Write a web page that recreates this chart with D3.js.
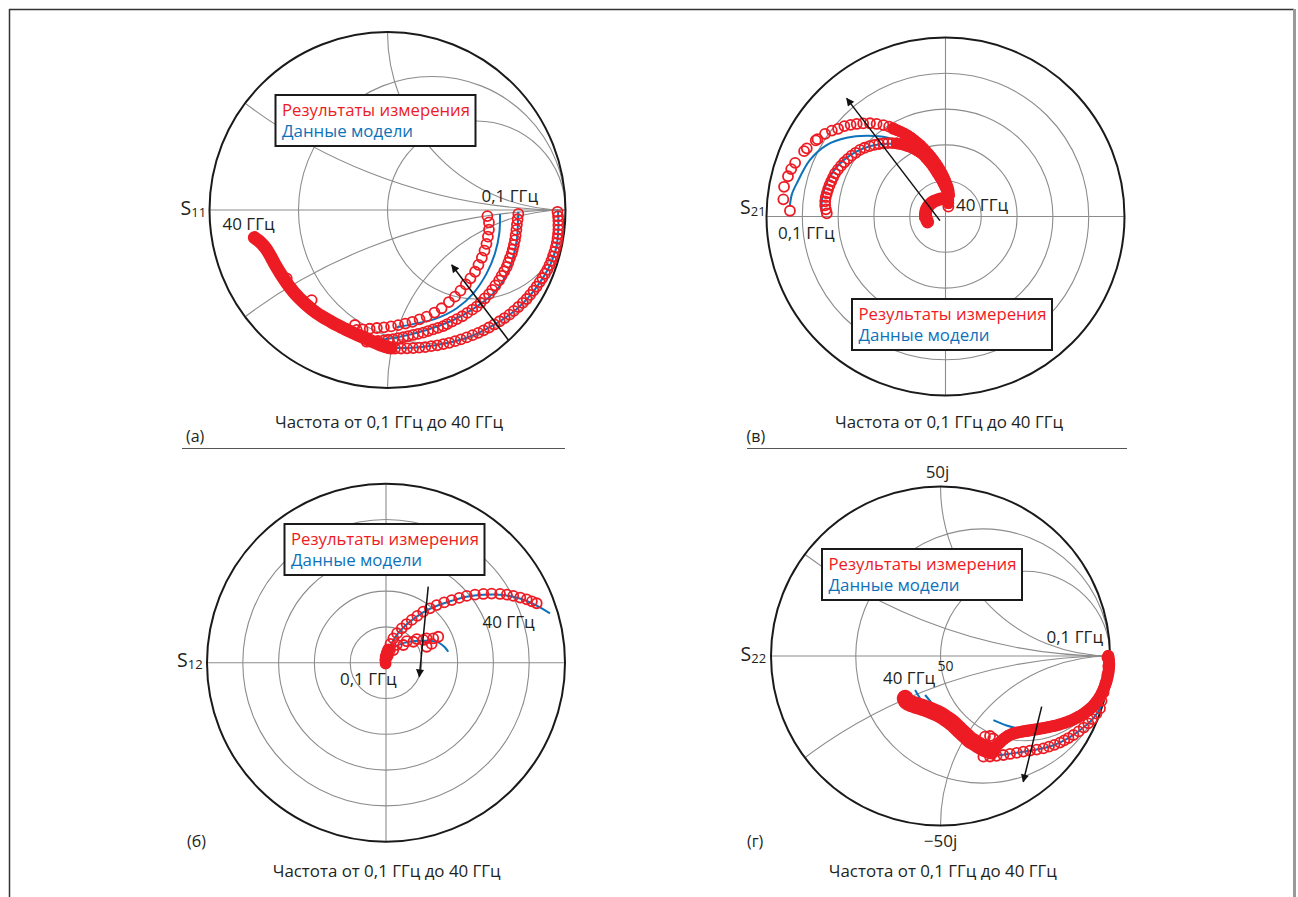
<!DOCTYPE html>
<html>
<head>
<meta charset="utf-8">
<script src="https://cdn.jsdelivr.net/npm/d3@7"></script>
<style>
  body { margin: 0; background: #fff; }
  text { font-family: "Open Sans", sans-serif; fill: #231f20; }
</style>
</head>
<body>
<svg id="chart" width="1298" height="897"></svg>
<script>
// ---- data (normalized chart coordinates, outer circle = 1) ----

// S11: three measured traces (sparse part), shared dense tail, model lines
const s11Meas1 = [[0.955,-0.010],[0.958,-0.035],[0.960,-0.060],[0.960,-0.085],[0.960,-0.110],[0.958,-0.135],[0.955,-0.160],[0.951,-0.185],[0.945,-0.210],[0.938,-0.235],[0.930,-0.260],[0.921,-0.285],[0.910,-0.310],[0.898,-0.335],[0.885,-0.358],[0.870,-0.382],[0.855,-0.405],[0.838,-0.430],[0.820,-0.453],[0.801,-0.477],[0.782,-0.500],[0.760,-0.522],[0.735,-0.545],[0.710,-0.567],[0.685,-0.588],[0.658,-0.607],[0.630,-0.625],[0.600,-0.643],[0.570,-0.660],[0.540,-0.676],[0.510,-0.690],[0.478,-0.703],[0.445,-0.716],[0.412,-0.727],[0.380,-0.737],[0.347,-0.746],[0.314,-0.753],[0.280,-0.760],[0.246,-0.765],[0.212,-0.770],[0.178,-0.773],[0.144,-0.776],[0.110,-0.777],[0.076,-0.778],[0.042,-0.778],[0.008,-0.777]];
const s11Meas2 = [[0.735,-0.022],[0.731,-0.052],[0.727,-0.082],[0.724,-0.112],[0.720,-0.142],[0.716,-0.169],[0.710,-0.196],[0.704,-0.221],[0.698,-0.244],[0.688,-0.270],[0.679,-0.295],[0.670,-0.319],[0.656,-0.344],[0.641,-0.370],[0.627,-0.395],[0.606,-0.424],[0.588,-0.449],[0.570,-0.473],[0.546,-0.497],[0.523,-0.520],[0.501,-0.543],[0.476,-0.560],[0.448,-0.578],[0.420,-0.597],[0.390,-0.613],[0.362,-0.627],[0.335,-0.641],[0.313,-0.652],[0.284,-0.662],[0.256,-0.671],[0.228,-0.680],[0.201,-0.689],[0.172,-0.696],[0.144,-0.702],[0.116,-0.709],[0.089,-0.715],[0.060,-0.720],[0.032,-0.725],[0.004,-0.729],[-0.024,-0.734],[-0.054,-0.736],[-0.085,-0.738],[-0.117,-0.740]];
const s11Meas3 = [[0.561,-0.034],[0.570,-0.070],[0.570,-0.110],[0.564,-0.150],[0.556,-0.190],[0.545,-0.228],[0.530,-0.268],[0.511,-0.308],[0.492,-0.347],[0.466,-0.384],[0.440,-0.418],[0.410,-0.453],[0.379,-0.487],[0.345,-0.517],[0.304,-0.552],[0.264,-0.576],[0.220,-0.599],[0.180,-0.614],[0.140,-0.628],[0.100,-0.638],[0.060,-0.647],[0.020,-0.654],[-0.020,-0.659],[-0.060,-0.663],[-0.100,-0.667],[-0.140,-0.671],[-0.173,-0.674],[-0.183,-0.646],[-0.426,-0.506],[-0.566,-0.384]];
const s11Tail = [[0.020,-0.775],[-0.010,-0.768],[-0.040,-0.758],[-0.070,-0.745],[-0.100,-0.732],[-0.130,-0.718],[-0.160,-0.705],[-0.190,-0.692],[-0.220,-0.678],[-0.250,-0.663],[-0.280,-0.648],[-0.310,-0.632],[-0.340,-0.615],[-0.370,-0.597],[-0.400,-0.577],[-0.428,-0.556],[-0.455,-0.533],[-0.480,-0.510],[-0.503,-0.487],[-0.525,-0.463],[-0.546,-0.437],[-0.566,-0.410],[-0.585,-0.382],[-0.603,-0.354],[-0.620,-0.326],[-0.636,-0.298],[-0.651,-0.270],[-0.666,-0.243],[-0.682,-0.218],[-0.700,-0.196],[-0.718,-0.178],[-0.735,-0.165],[-0.748,-0.155]];
const s11Model1 = [[0.958,-0.005],[0.960,-0.100],[0.950,-0.200],[0.922,-0.290],[0.880,-0.370],[0.825,-0.450],[0.760,-0.525],[0.680,-0.593],[0.590,-0.650],[0.490,-0.700],[0.380,-0.737],[0.270,-0.760],[0.160,-0.772],[0.042,-0.772],[-0.100,-0.725],[-0.250,-0.655],[-0.400,-0.560],[-0.510,-0.460],[-0.590,-0.350],[-0.640,-0.260],[-0.680,-0.190],[-0.710,-0.150]];
const s11Model2 = [[0.735,-0.010],[0.733,-0.060],[0.726,-0.169],[0.688,-0.319],[0.613,-0.449],[0.501,-0.543],[0.370,-0.618],[0.220,-0.674],[0.070,-0.712],[-0.042,-0.730]];
const s11Model3 = [[0.632,-0.022],[0.628,-0.131],[0.604,-0.243],[0.557,-0.356],[0.482,-0.468],[0.389,-0.552],[0.276,-0.609],[0.164,-0.637],[0.052,-0.659]];
const s11Arrow = [[0.679,-0.730],[0.361,-0.309]];

// S21: outer and inner traces, dense tails, small trace near the centre
const s21Meas1 = [[-0.869,0.032],[-0.906,0.096],[-0.902,0.166],[-0.880,0.225],[-0.862,0.265],[-0.840,0.300],[-0.790,0.365],[-0.775,0.381],[-0.725,0.425],[-0.715,0.432],[-0.673,0.462],[-0.635,0.480],[-0.600,0.490],[-0.565,0.505],[-0.530,0.512],[-0.496,0.517],[-0.460,0.520],[-0.422,0.521],[-0.385,0.517],[-0.347,0.511],[-0.315,0.502],[-0.292,0.493]];
const s21Tail1 = [[-0.292,0.490],[-0.272,0.483],[-0.252,0.474],[-0.232,0.464],[-0.212,0.453],[-0.193,0.440],[-0.175,0.427],[-0.158,0.413],[-0.141,0.398],[-0.125,0.382],[-0.110,0.366],[-0.095,0.350],[-0.081,0.333],[-0.068,0.316],[-0.055,0.298],[-0.043,0.280],[-0.032,0.261],[-0.021,0.242],[-0.011,0.222],[-0.002,0.202],[0.006,0.182],[0.013,0.162],[0.018,0.142],[0.021,0.120]];
const s21Meas2 = [[-0.663,0.018],[-0.668,0.040],[-0.672,0.062],[-0.672,0.085],[-0.669,0.108],[-0.663,0.130],[-0.656,0.152],[-0.648,0.175],[-0.638,0.197],[-0.628,0.219],[-0.617,0.241],[-0.601,0.262],[-0.584,0.283],[-0.566,0.303],[-0.546,0.322],[-0.525,0.340],[-0.502,0.356],[-0.478,0.372],[-0.452,0.384],[-0.425,0.393],[-0.398,0.400],[-0.372,0.405],[-0.347,0.409],[-0.322,0.410],[-0.297,0.410],[-0.273,0.409]];
const s21Tail2 = [[-0.273,0.409],[-0.253,0.405],[-0.233,0.400],[-0.214,0.394],[-0.196,0.388],[-0.178,0.380],[-0.160,0.370],[-0.142,0.358],[-0.124,0.344],[-0.109,0.328],[-0.095,0.312],[-0.081,0.295],[-0.068,0.278],[-0.056,0.260],[-0.044,0.241],[-0.032,0.222],[-0.021,0.204],[-0.011,0.185],[-0.002,0.166],[0.007,0.148],[0.012,0.128],[0.015,0.108],[0.016,0.092],[0.016,0.074],[0.016,0.055]];
const s21Tail3 = [[-0.100,-0.030],[-0.108,-0.010],[-0.112,0.012],[-0.108,0.035],[-0.098,0.055],[-0.083,0.072],[-0.064,0.085],[-0.044,0.093],[-0.024,0.098],[-0.004,0.100]];
const s21Model1 = [[-0.869,0.064],[-0.858,0.125],[-0.831,0.185],[-0.757,0.316],[-0.664,0.399],[-0.552,0.440],[-0.440,0.451],[-0.328,0.442],[-0.217,0.399],[-0.130,0.340],[-0.060,0.260],[-0.015,0.180],[0.005,0.120]];
const s21Model2 = [[-0.690,0.020],[-0.692,0.070],[-0.680,0.140],[-0.650,0.215],[-0.600,0.285],[-0.535,0.340],[-0.460,0.380],[-0.375,0.402],[-0.290,0.405],[-0.205,0.385],[-0.125,0.335],[-0.065,0.265],[-0.025,0.185],[-0.005,0.110],[0.005,0.060]];
const s21Model3 = [[-0.140,-0.020],[-0.142,0.000],[-0.136,0.025],[-0.120,0.045],[-0.100,0.062]];
const s21Arrow = [[-0.031,-0.023],[-0.552,0.660]];

// S12: outer and inner traces, dense start at the centre
const s12Meas1 = [[0.000,0.020],[0.005,0.045],[0.013,0.075],[0.025,0.105],[0.041,0.136],[0.062,0.165],[0.088,0.192],[0.115,0.216],[0.144,0.239],[0.175,0.262],[0.208,0.285],[0.245,0.304],[0.283,0.322],[0.325,0.337],[0.367,0.350],[0.409,0.362],[0.451,0.373],[0.497,0.380],[0.544,0.384],[0.590,0.386],[0.637,0.384],[0.675,0.380],[0.711,0.373],[0.750,0.364],[0.786,0.354],[0.815,0.343],[0.842,0.332]];
const s12Meas2 = [[0.010,0.040],[0.022,0.071],[0.041,0.071],[0.060,0.100],[0.097,0.099],[0.116,0.120],[0.153,0.117],[0.172,0.132],[0.208,0.127],[0.227,0.136],[0.227,0.089],[0.264,0.136],[0.292,0.145],[0.255,0.105]];
const s12Head = [[-0.002,-0.005],[-0.004,0.015],[-0.002,0.035],[0.004,0.055],[0.012,0.072]];
const s12Model1 = [[0.000,0.010],[0.020,0.085],[0.050,0.140],[0.090,0.190],[0.145,0.238],[0.210,0.283],[0.285,0.318],[0.367,0.346],[0.450,0.368],[0.544,0.379],[0.637,0.379],[0.711,0.368],[0.786,0.345],[0.850,0.315],[0.916,0.276]];
const s12Model2 = [[0.020,0.060],[0.060,0.095],[0.120,0.115],[0.180,0.122],[0.240,0.122],[0.283,0.118],[0.310,0.102],[0.330,0.085],[0.348,0.061]];
const s12Arrow = [[0.236,0.425],[0.186,-0.078]];

// S22: dense trace A, sparse trace B, shared dense tail
const s22MeasA = [[0.990,0.000],[0.993,-0.020],[0.995,-0.045],[0.994,-0.070],[0.991,-0.095],[0.986,-0.120],[0.980,-0.145],[0.972,-0.170],[0.963,-0.195],[0.952,-0.220],[0.938,-0.245],[0.922,-0.268],[0.904,-0.290],[0.884,-0.310],[0.862,-0.328],[0.838,-0.345],[0.812,-0.360],[0.785,-0.374],[0.757,-0.386],[0.728,-0.396],[0.698,-0.405],[0.668,-0.413],[0.637,-0.420],[0.606,-0.426],[0.575,-0.431],[0.544,-0.436],[0.513,-0.441],[0.482,-0.446],[0.452,-0.452],[0.424,-0.460],[0.398,-0.472],[0.375,-0.488],[0.355,-0.506],[0.335,-0.525],[0.315,-0.545]];
const s22MeasB = [[0.985,-0.010],[0.990,-0.060],[0.985,-0.110],[0.975,-0.160],[0.962,-0.215],[0.950,-0.265],[0.941,-0.309],[0.920,-0.340],[0.895,-0.372],[0.872,-0.397],[0.845,-0.422],[0.815,-0.445],[0.784,-0.466],[0.755,-0.484],[0.730,-0.498],[0.705,-0.511],[0.672,-0.524],[0.640,-0.535],[0.607,-0.545],[0.568,-0.552],[0.528,-0.558],[0.489,-0.564],[0.450,-0.571],[0.410,-0.578],[0.371,-0.584],[0.331,-0.589],[0.292,-0.593],[0.253,-0.594],[0.262,-0.476],[0.292,-0.472],[0.311,-0.486]];
const s22Tail = [[0.300,-0.560],[0.275,-0.552],[0.253,-0.543],[0.232,-0.530],[0.212,-0.518],[0.193,-0.506],[0.174,-0.494],[0.155,-0.476],[0.136,-0.458],[0.116,-0.440],[0.096,-0.420],[0.076,-0.400],[0.056,-0.385],[0.034,-0.370],[0.012,-0.355],[-0.010,-0.342],[-0.032,-0.332],[-0.055,-0.322],[-0.078,-0.313],[-0.100,-0.305],[-0.122,-0.298],[-0.144,-0.291],[-0.165,-0.284],[-0.185,-0.276],[-0.200,-0.266],[-0.208,-0.250]];
const s22ModelA = [[0.995,0.000],[0.990,-0.100],[0.960,-0.220],[0.910,-0.300],[0.840,-0.360],[0.750,-0.400],[0.650,-0.425],[0.567,-0.441],[0.470,-0.430],[0.390,-0.410],[0.312,-0.378]];
const s22ModelB = [[0.990,-0.050],[0.975,-0.180],[0.955,-0.270],[0.930,-0.330],[0.890,-0.380],[0.840,-0.425],[0.780,-0.468],[0.710,-0.508],[0.640,-0.535],[0.560,-0.553],[0.480,-0.566],[0.400,-0.578],[0.320,-0.585],[0.250,-0.580],[0.180,-0.545],[0.100,-0.470],[0.020,-0.380],[-0.060,-0.320],[-0.101,-0.279],[-0.150,-0.201]];
const s22ModelC = [[-0.030,-0.320],[-0.052,-0.279],[-0.091,-0.230]];
const s22Arrow = [[0.597,-0.299],[0.488,-0.742]];

// grids and texts
const smithR = [1 / 3, 1];
const smithX = [1 / 3, 1, -1 / 3, -1];
const polarRings = [0.2, 0.4, 0.6, 0.8];
const smithTicks = ["50j", "\u221250j", "50"];
const legendTexts = ["Результаты измерения", "Данные модели"];
const caption = "Частота от 0,1 ГГц до 40 ГГц";

const RED = "#ed1c24", BLUE = "#0d72ba", GRID = "#8c8c8c";

const svg = d3.select("#chart");

svg.append("defs").append("marker")
  .attr("id", "arrowhead")
  .attr("viewBox", "0 0 10 10")
  .attr("refX", 9).attr("refY", 5)
  .attr("markerUnits", "userSpaceOnUse")
  .attr("markerWidth", 11).attr("markerHeight", 8)
  .attr("orient", "auto")
  .append("path").attr("d", "M0,0 L10,5 L0,10 z").attr("fill", "#111");

// page frame and separators
svg.append("line").attr("x1", 9).attr("x2", 1294).attr("y1", 9.5).attr("y2", 9.5).attr("stroke", "#333").attr("stroke-width", 1.5);
svg.append("line").attr("x1", 9.5).attr("x2", 9.5).attr("y1", 9).attr("y2", 897).attr("stroke", "#333").attr("stroke-width", 1.5);
svg.append("line").attr("x1", 1294.5).attr("x2", 1294.5).attr("y1", 9).attr("y2", 897).attr("stroke", "#999").attr("stroke-width", 3);
svg.append("line").attr("x1", 182).attr("x2", 565).attr("y1", 448.5).attr("y2", 448.5).attr("stroke", "#555").attr("stroke-width", 1);
svg.append("line").attr("x1", 747).attr("x2", 1127).attr("y1", 448.5).attr("y2", 448.5).attr("stroke", "#555").attr("stroke-width", 1);

function drawPanel(cfg) {
  const g = svg.append("g");
  const x = d3.scaleLinear().domain([-1, 1]).range([cfg.cx - cfg.R, cfg.cx + cfg.R]);
  const y = d3.scaleLinear().domain([-1, 1]).range([cfg.cy + cfg.R, cfg.cy - cfg.R]);
  const rad = d3.scaleLinear().domain([0, 1]).range([0, cfg.R]);

  svg.select("defs").append("clipPath").attr("id", "clip-" + cfg.id)
    .append("circle").attr("cx", x(0)).attr("cy", y(0)).attr("r", rad(1));

  const grid = g.append("g")
    .attr("clip-path", `url(#clip-${cfg.id})`)
    .attr("fill", "none").attr("stroke", GRID).attr("stroke-width", 1.1);

  if (cfg.type === "smith") {
    grid.selectAll(".rc").data(smithR).join("circle")
      .attr("cx", r => x(r / (1 + r))).attr("cy", y(0)).attr("r", r => rad(1 / (1 + r)));
    grid.selectAll(".xc").data(smithX).join("circle")
      .attr("cx", x(1)).attr("cy", v => y(1 / v)).attr("r", v => rad(1 / Math.abs(v)));
    grid.append("line").attr("x1", x(-1)).attr("x2", x(1)).attr("y1", y(0)).attr("y2", y(0));
  } else {
    grid.selectAll(".ring").data(polarRings).join("circle")
      .attr("cx", x(0)).attr("cy", y(0)).attr("r", r => rad(r));
    grid.append("line").attr("x1", x(-1)).attr("x2", x(1)).attr("y1", y(0)).attr("y2", y(0));
    grid.append("line").attr("x1", x(0)).attr("x2", x(0)).attr("y1", y(-1)).attr("y2", y(1));
  }

  g.append("circle").attr("cx", x(0)).attr("cy", y(0)).attr("r", rad(1))
    .attr("fill", "none").attr("stroke", "#1a1a1a").attr("stroke-width", 2);

  const line = d3.line().x(d => x(d[0])).y(d => y(d[1])).curve(d3.curveCatmullRom);

  cfg.models.forEach(m => {
    g.append("path").attr("d", line(m))
      .attr("fill", "none").attr("stroke", BLUE).attr("stroke-width", 2);
  });

  cfg.bands.forEach(([pts, w]) => {
    g.append("path").attr("d", line(pts))
      .attr("fill", "none").attr("stroke", RED).attr("stroke-width", w)
      .attr("stroke-linecap", "round").attr("stroke-linejoin", "round");
  });

  cfg.meas.concat(cfg.bands.map(b => b[0])).forEach(m => {
    g.append("g").selectAll("circle").data(m).join("circle")
      .attr("cx", d => x(d[0])).attr("cy", d => y(d[1])).attr("r", 5)
      .attr("fill", "none").attr("stroke", RED).attr("stroke-width", 1.8);
  });

  g.append("line")
    .attr("x1", x(cfg.arrow[0][0])).attr("y1", y(cfg.arrow[0][1]))
    .attr("x2", x(cfg.arrow[1][0])).attr("y2", y(cfg.arrow[1][1]))
    .attr("stroke", "#111").attr("stroke-width", 1.5).attr("marker-end", "url(#arrowhead)");

  // legend
  const lg = cfg.legend;
  g.append("rect").attr("x", lg[0]).attr("y", lg[1]).attr("width", 200).attr("height", 51)
    .attr("fill", "#fff").attr("stroke", "#1a1a1a").attr("stroke-width", 2);
  g.append("text").attr("x", lg[0] + 6.5).attr("y", lg[1] + 20.7)
    .attr("font-size", 17).style("fill", RED)
    .attr("textLength", 188).attr("lengthAdjust", "spacingAndGlyphs").text(legendTexts[0]);
  g.append("text").attr("x", lg[0] + 6.5).attr("y", lg[1] + 41.5)
    .attr("font-size", 17).style("fill", BLUE)
    .attr("textLength", 131).attr("lengthAdjust", "spacingAndGlyphs").text(legendTexts[1]);

  // S-parameter name
  const sl = g.append("text").attr("x", cfg.sLabel[0]).attr("y", cfg.sLabel[1]).attr("font-size", 19.5).text("S");
  sl.append("tspan").attr("font-size", 13).attr("dy", 2).text(cfg.sub);

  // frequency labels
  cfg.freqLabels.forEach(([t, px, py]) => {
    g.append("text").attr("x", px).attr("y", py).attr("font-size", 17).text(t);
  });

  // caption and panel letter
  g.append("text").attr("x", cfg.caption[0]).attr("y", cfg.caption[1])
    .attr("text-anchor", "middle").attr("font-size", 16.5)
    .attr("textLength", 228).attr("lengthAdjust", "spacingAndGlyphs").text(caption);
  g.append("text").attr("x", cfg.letter[0]).attr("y", cfg.letter[1]).attr("font-size", 16).text(cfg.letter[2]);

  if (cfg.type === "smith" && cfg.ticks) {
    g.append("text").attr("x", x(0) - 3).attr("y", y(1) - 9).attr("text-anchor", "middle").attr("font-size", 17).text(smithTicks[0]);
    g.append("text").attr("x", x(0)).attr("y", y(-1) + 21).attr("text-anchor", "middle").attr("font-size", 17).text(smithTicks[1]);
    g.append("text").attr("x", x(0) - 3).attr("y", y(0) + 15).attr("font-size", 14).text(smithTicks[2]);
  }
}

drawPanel({
  id: "a", type: "smith", cx: 387.5, cy: 210, R: 178,
  models: [s11Model1, s11Model2, s11Model3],
  bands: [[s11Tail, 13]],
  meas: [s11Meas1, s11Meas2, s11Meas3],
  arrow: s11Arrow,
  legend: [275.5, 95],
  sLabel: [180.5, 215], sub: "11",
  freqLabels: [["40 ГГц", 222.5, 230], ["0,1 ГГц", 481.5, 201.5]],
  caption: [389, 428], letter: [186, 441.5, "(а)"]
});

drawPanel({
  id: "v", type: "polar", cx: 945.5, cy: 216.5, R: 179,
  models: [s21Model1, s21Model2, s21Model3],
  bands: [[s21Tail1.slice(0, -1), 11], [s21Tail2.slice(0, -1), 11], [s21Tail3, 13]],
  meas: [s21Meas1, s21Meas2, [s21Tail1[s21Tail1.length - 1], s21Tail2[s21Tail2.length - 1]]],
  arrow: s21Arrow,
  legend: [852, 299],
  sLabel: [740, 214], sub: "21",
  freqLabels: [["0,1 ГГц", 778, 238.5], ["40 ГГц", 956, 210.5]],
  caption: [949, 428.3], letter: [746.5, 441.5, "(в)"]
});

drawPanel({
  id: "b", type: "polar", cx: 386, cy: 662.7, R: 179,
  models: [s12Model1, s12Model2],
  bands: [[s12Head, 10]],
  meas: [s12Meas1, s12Meas2],
  arrow: s12Arrow,
  legend: [284.5, 524],
  sLabel: [177, 666.7], sub: "12",
  freqLabels: [["0,1 ГГц", 340, 685], ["40 ГГц", 482.5, 628.3]],
  caption: [386.7, 876.7], letter: [187, 846.5, "(б)"]
});

drawPanel({
  id: "g", type: "smith", cx: 940.5, cy: 656, R: 169.5, ticks: true,
  models: [s22ModelA, s22ModelB, s22ModelC],
  bands: [[s22MeasA, 12], [s22Tail, 17]],
  meas: [s22MeasB],
  arrow: s22Arrow,
  legend: [822, 549],
  sLabel: [740.5, 660.7], sub: "22",
  freqLabels: [["40 ГГц", 883, 684.3], ["0,1 ГГц", 1046.5, 642.7]],
  caption: [942.8, 876.7], letter: [747, 846.5, "(г)"]
});
</script>
</body>
</html>
